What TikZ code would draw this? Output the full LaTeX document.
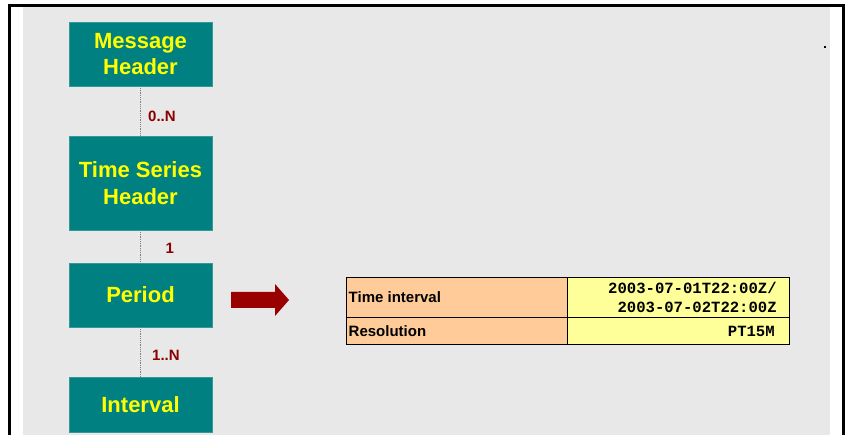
\documentclass[tikz,border=0pt]{standalone}
\usepackage{fontspec}
\setmainfont{Liberation Sans}
\setmonofont{Liberation Mono}
\definecolor{pagegrey}{RGB}{232,232,232}
\definecolor{boxteal}{HTML}{008080}
\definecolor{boxtext}{HTML}{FFFF00}
\definecolor{multred}{HTML}{8B0000}
\definecolor{arrowred}{HTML}{990000}
\definecolor{keycell}{HTML}{FFCC99}
\definecolor{valcell}{HTML}{FFFF99}
\tikzset{
  entity/.style={fill=boxteal, draw=boxteal!80!white, line width=0.6pt,
    minimum width=143pt, inner sep=0pt, align=center, text=boxtext,
    font=\fontsize{22}{26.5}\selectfont\bfseries},
  conn/.style={draw=gray, line width=0.8pt, densely dotted},
  mult/.style={anchor=west, text=multred, inner sep=0pt,
    font=\fontsize{15}{18}\selectfont\bfseries},
  cell/.style={draw=black, line width=0.9pt, anchor=north west, inner sep=0pt},
  keytext/.style={anchor=west, inner sep=0pt, font=\fontsize{15}{18}\selectfont\bfseries},
  valtext/.style={anchor=east, inner sep=0pt, align=right,
    font=\fontsize{15.6}{19}\selectfont\ttfamily\bfseries}
}
\begin{document}
\begin{tikzpicture}[x=1pt,y=-1pt]
\useasboundingbox (0,0) rectangle (848,435);
% page background and frame
\fill[white] (0,0) rectangle (848,435);
\fill[pagegrey] (23,7.5) rectangle (830,435);
\draw[line width=3pt] (9,435) -- (9,6) -- (843.5,6) -- (843.5,435);
\fill[black] (824.2,46.2) rectangle (825.8,47.8);

% entity boxes
\node[entity, minimum height=64pt] (mh)  at (140.5,54)   {Message\\Header};
\node[entity, minimum height=94pt] (tsh) at (140.5,183)  {Time Series\\Header};
\node[entity, minimum height=64pt] (per) at (140.5,295)  {Period};
\node[entity, minimum height=55pt] (itv) at (140.5,404.5) {Interval};

% relations
\draw[conn] (mh) -- (tsh);
\draw[conn] (tsh) -- (per);
\draw[conn] (per) -- (itv);
\node[mult] (m1) at (148,116.5) {0..N};
\node[mult] (m2) at (165.5,248.5) {1};
\node[mult] (m3) at (152,355.5) {1..N};

% block arrow
\fill[arrowred] (231,292) -- (275,292) -- (275,284) -- (289,300)
  -- (275,316) -- (275,308) -- (231,308) -- cycle;

% attribute table
\node[cell, fill=keycell, minimum width=221.5pt, minimum height=40pt] (k1) at (345.5,277) {};
\node[cell, fill=valcell, minimum width=222pt, minimum height=40pt] (v1) at (567,277) {};
\node[cell, fill=keycell, minimum width=221.5pt, minimum height=27pt] (k2) at (345.5,317) {};
\node[cell, fill=valcell, minimum width=222pt, minimum height=27pt] (v2) at (567,317) {};
\node[keytext] (k1t) at ([xshift=3pt]k1.west) {Time interval};
\node[keytext] (k2t) at ([xshift=3pt]k2.west) {Resolution};
\node[valtext] (v1t) at ([xshift=-13pt]v1.east) {2003-07-01T22:00Z/\\2003-07-02T22:00Z};
\node[valtext] (v2t) at ([xshift=-15pt]v2.east) {PT15M};
\end{tikzpicture}
\end{document}
